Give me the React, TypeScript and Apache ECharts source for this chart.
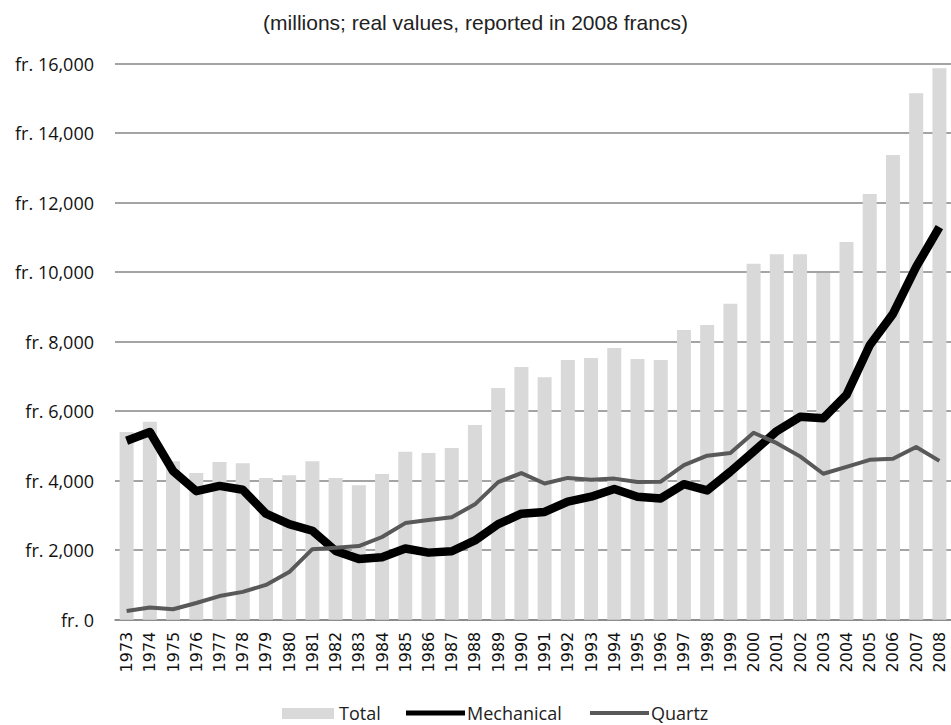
import React, { useEffect, useRef } from "react";
import * as echarts from "echarts";

const years = [
  "1973", "1974", "1975", "1976", "1977", "1978", "1979", "1980", "1981", "1982", "1983", "1984",
  "1985", "1986", "1987", "1988", "1989", "1990", "1991", "1992", "1993", "1994", "1995", "1996",
  "1997", "1998", "1999", "2000", "2001", "2002", "2003", "2004", "2005", "2006", "2007", "2008",
];

const total = [
  5400, 5700, 4560, 4220, 4540, 4500, 4080, 4160, 4560, 4080, 3870, 4190,
  4830, 4800, 4940, 5600, 6670, 7270, 6980, 7470, 7530, 7820, 7500, 7470,
  8340, 8480, 9090, 10240, 10520, 10520, 9980, 10870, 12250, 13370, 15150, 15870,
];

const mechanical = [
  5150, 5400, 4280, 3700, 3850, 3740, 3050, 2750, 2560, 1980, 1750, 1800,
  2050, 1930, 1970, 2280, 2750, 3050, 3100, 3400, 3540, 3760, 3540, 3490,
  3900, 3720, 4260, 4840, 5430, 5840, 5800, 6470, 7900, 8800, 10150, 11300,
];

const quartz = [
  250, 350, 300, 480, 680, 800, 1000, 1370, 2030, 2070, 2120, 2380,
  2780, 2870, 2950, 3320, 3960, 4220, 3920, 4080, 4030, 4060, 3960, 3970,
  4450, 4720, 4800, 5380, 5080, 4700, 4200, 4400, 4600, 4630, 4970, 4570,
];

const seriesNames = ["Total", "Mechanical", "Quartz"];
const titleText = "(millions; real values, reported in 2008 francs)";

export default function App() {
  const ref = useRef<HTMLDivElement>(null);
  useEffect(() => {
    if (!ref.current) return;
    const chart = echarts.init(ref.current, null, { renderer: "svg" });
    const legendFont = { fontFamily: "Open Sans", fontSize: 18, fill: "#222" };
    const ly = 713;
    chart.setOption({
      animation: false,
      backgroundColor: "#ffffff",
      title: {
        text: titleText,
        left: "center",
        top: 7,
        textStyle: {
          fontFamily: "Liberation Sans",
          fontSize: 21,
          fontWeight: "normal",
          color: "#222",
        },
      },
      legend: { show: false },
      graphic: [
        { type: "rect", shape: { x: 282, y: 708, width: 52, height: 11 }, style: { fill: "#d9d9d9" } },
        { type: "text", x: 339, y: ly, style: { text: seriesNames[0], ...legendFont, verticalAlign: "middle" } },
        { type: "line", shape: { x1: 406, y1: ly, x2: 465, y2: ly }, style: { stroke: "#000", lineWidth: 5 } },
        { type: "text", x: 467, y: ly, style: { text: seriesNames[1], ...legendFont, verticalAlign: "middle" } },
        { type: "line", shape: { x1: 590, y1: ly, x2: 649, y2: ly }, style: { stroke: "#595959", lineWidth: 4 } },
        { type: "text", x: 651, y: ly, style: { text: seriesNames[2], ...legendFont, verticalAlign: "middle" } },
      ],
      grid: { left: 115, top: 63.7, width: 842, bottom: 105.3, containLabel: false },
      xAxis: {
        type: "category",
        data: years,
        boundaryGap: true,
        axisLine: { lineStyle: { color: "#868686", width: 1.5 } },
        axisTick: { show: false },
        axisLabel: {
          rotate: 90,
          interval: 0,
          margin: 12,
          fontFamily: "DejaVu Sans",
          fontSize: 16,
          color: "#111",
        },
      },
      yAxis: {
        type: "value",
        min: 0,
        max: 16000,
        interval: 2000,
        axisLine: { show: false },
        axisTick: { show: false },
        splitLine: { lineStyle: { color: "#868686", width: 1.5 } },
        axisLabel: {
          margin: 21,
          fontFamily: "Open Sans",
          fontSize: 18,
          color: "#111",
          formatter: (v: number) => "fr. " + v.toLocaleString("en-US"),
        },
      },
      series: [
        {
          name: seriesNames[0],
          type: "bar",
          data: total,
          barWidth: 14,
          itemStyle: { color: "#d9d9d9" },
        },
        {
          name: seriesNames[1],
          type: "line",
          data: mechanical,
          symbol: "none",
          lineStyle: { color: "#000000", width: 8.5, join: "round", cap: "butt" },
        },
        {
          name: seriesNames[2],
          type: "line",
          data: quartz,
          symbol: "none",
          lineStyle: { color: "#595959", width: 4, join: "round" },
        },
      ],
    });
    return () => chart.dispose();
  }, []);
  return (
    <div
      ref={ref}
      style={{ position: "fixed", left: 0, top: 0, width: 951, height: 725 }}
    />
  );
}
